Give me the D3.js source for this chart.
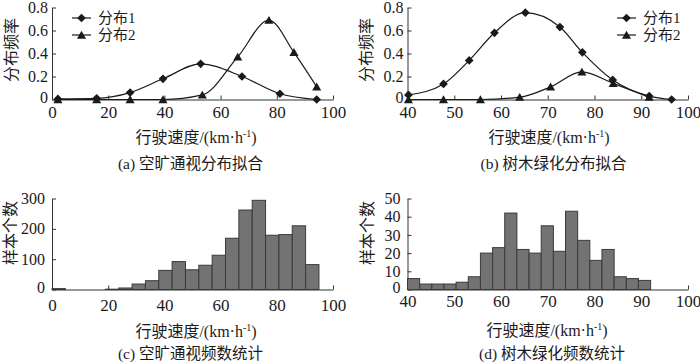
<!DOCTYPE html>
<html>
<head>
<meta charset="utf-8">
<script src="https://cdn.jsdelivr.net/npm/d3@7"></script>
<style>
    body { margin: 0; background: #fff; }
    svg text { font-family: "Liberation Serif", "Noto Sans CJK SC", serif; fill: #1a1a1a; }
</style>
</head>
<body>
<svg id="chart" width="700" height="362"></svg>
<script>
// (a) 空旷通视 分布拟合
const speedA1 = [2.1, 15.9, 27.8, 39.5, 52.9, 67.6, 81.1, 94.2];
const freqA1 = [0.005, 0.01, 0.06, 0.18, 0.31, 0.20, 0.05, 0];
const speedA2 = [2.1, 15.9, 27.8, 39.5, 53.5, 66.1, 77.2, 86.1, 94.2];
const freqA2 = [0, 0, 0, 0, 0.04, 0.37, 0.69, 0.41, 0.11];

// (b) 树木绿化 分布拟合
const speedB1 = [40.2, 47.7, 53.2, 58.6, 65.2, 72.6, 77.4, 83.9, 91.7, 96.5];
const freqB1 = [0.04, 0.135, 0.34, 0.58, 0.755, 0.63, 0.41, 0.17, 0.03, 0];
const speedB2 = [40.2, 47.7, 55.6, 64.0, 70.6, 77.3, 84.0, 91.7];
const freqB2 = [0, 0, 0, 0.02, 0.11, 0.24, 0.14, 0.02];

// (c) 空旷通视 频数统计
const edgesC = [0, 4.75, 9.5, 14.25, 19, 23.75, 28.5, 33.25, 38, 42.75, 47.5,
    52.25, 57, 61.75, 66.5, 71.25, 76, 80.75, 85.5, 90.25, 95];
const countsC = [3, 0, 0, 0, 1, 5, 18, 29, 63, 92, 65, 80, 113, 169, 262, 294, 179, 181, 210, 82];

// (d) 树木绿化 频数统计
const edgesD = [40, 42.6, 45.2, 47.8, 50.4, 53, 55.6, 58.2, 60.8, 63.4, 66,
    68.6, 71.2, 73.8, 76.4, 79, 81.6, 84.2, 86.8, 89.4, 92];
const countsD = [6, 3, 3, 3, 4, 7, 20, 23, 42, 22, 20, 35, 21, 43, 27, 16, 22, 7, 6, 5];

// 刻度
const ticksX1 = [0, 20, 40, 60, 80, 100];
const ticksX2 = [40, 50, 60, 70, 80, 90, 100];
const ticksFreq = [0, 0.2, 0.4, 0.6, 0.8];
const ticksCountC = [0, 100, 200, 300];
const ticksCountD = [0, 10, 20, 30, 40, 50];

const seriesNames = ['分布1', '分布2'];
const xTitle = '行驶速度/(km·h';
const captions = ['(a) 空旷通视分布拟合', '(b) 树木绿化分布拟合', '(c) 空旷通视频数统计', '(d) 树木绿化频数统计'];
const yTitles = ['分布频率', '分布频率', '样本个数', '样本个数'];

const svg = d3.select('#chart');
const ink = '#1a1a1a';

const fmtFreq = d => d === 0 ? '0' : d3.format('.1f')(d);

// 坐标轴 + 标题
function drawFrame(p) {
    const g = svg.append('g');

    const xAxis = g.append('g')
        .attr('transform', `translate(0,${p.y.range()[0]})`)
        .call(d3.axisBottom(p.x).tickValues(p.xTicks)
            .tickSizeInner(-4).tickSizeOuter(0).tickPadding(p.xPad));

    const yAxis = g.append('g')
        .attr('transform', `translate(${p.x.range()[0]},0)`)
        .call(d3.axisLeft(p.y).tickValues(p.yTicks)
            .tickSizeInner(-4).tickSizeOuter(0).tickPadding(p.yPad)
            .tickFormat(p.yFormat || (d => d)));

    [xAxis, yAxis].forEach(a => {
        a.selectAll('path, line').attr('stroke', '#333').attr('stroke-width', 1);
        a.selectAll('text').attr('fill', ink).style('font-family', '"Liberation Serif", serif');
    });
    xAxis.selectAll('text').style('font-size', '17px');
    yAxis.selectAll('text').style('font-size', '16px');
    // 原点 "0" 稍上移，避免与横轴刻度重叠
    yAxis.selectAll('.tick text').filter(d => d === 0).attr('dy', '0.2em');

    // y 轴标题
    g.append('text')
        .attr('transform', `translate(${p.yTitleX},${p.yTitleY}) rotate(-90)`)
        .attr('text-anchor', 'middle')
        .attr('dominant-baseline', 'central')
        .style('font-size', '16px')
        .text(p.yTitle);

    // x 轴标题
    const t = g.append('text')
        .attr('x', p.xTitleX)
        .attr('y', p.xTitleY)
        .attr('text-anchor', 'middle')
        .style('font-size', '16px');
    t.append('tspan').text(xTitle);
    t.append('tspan').attr('dy', '-6').style('font-size', '10px').text('-1');
    t.append('tspan').attr('dy', '6').text(')');

    // 图注
    g.append('text')
        .attr('x', p.capX)
        .attr('y', p.capY)
        .attr('text-anchor', 'middle')
        .style('font-size', '15.5px')
        .text(p.caption);
}

const diamond = d3.symbol(d3.symbolSquare, 38);
const triangle = d3.symbol(d3.symbolTriangle, 36);

function drawMarker(g, kind, cx, cy) {
    if (kind === 0) {
        g.append('path').attr('d', diamond())
            .attr('transform', `translate(${cx},${cy}) rotate(45)`)
            .attr('fill', ink);
    } else {
        g.append('path').attr('d', triangle())
            .attr('transform', `translate(${cx},${cy + 1})`)
            .attr('fill', ink);
    }
}

function drawFitPanel(p, series) {
    drawFrame(p);
    const g = svg.append('g');
    const line = d3.line()
        .x(d => p.x(d[0]))
        .y(d => p.y(d[1]))
        .curve(d3.curveMonotoneX);

    series.forEach(s => {
        g.append('path')
            .attr('d', line(d3.zip(s.speed, s.freq)))
            .attr('fill', 'none')
            .attr('stroke', ink)
            .attr('stroke-width', 1.2);
    });
    series.forEach((s, i) => {
        d3.zip(s.speed, s.freq).forEach(d => drawMarker(g, i, p.x(d[0]), p.y(d[1])));
    });

    // 图例
    seriesNames.forEach((name, i) => {
        const ly = p.legY + i * 17;
        g.append('line')
            .attr('x1', p.legX).attr('x2', p.legX + 19)
            .attr('y1', ly).attr('y2', ly)
            .attr('stroke', ink).attr('stroke-width', 1.2);
        drawMarker(g, i, p.legX + 9.5, ly);
        g.append('text')
            .attr('x', p.legX + 26)
            .attr('y', ly + 5)
            .style('font-size', '15px')
            .text(name);
    });
}

function drawHistPanel(p, edges, counts) {
    drawFrame(p);
    const g = svg.append('g');
    g.selectAll('rect')
        .data(counts)
        .enter()
        .append('rect')
        .attr('x', (d, i) => p.x(edges[i]))
        .attr('width', (d, i) => p.x(edges[i + 1]) - p.x(edges[i]))
        .attr('y', d => p.y(d))
        .attr('height', d => p.y(0) - p.y(d))
        .attr('fill', '#737373')
        .attr('stroke', '#3a3a3a')
        .attr('stroke-width', 1);
}

// (a)
drawFitPanel({
    x: d3.scaleLinear().domain([0, 100]).range([52, 333]),
    y: d3.scaleLinear().domain([0, 0.8]).range([99.5, 7.5]),
    xTicks: ticksX1, yTicks: ticksFreq, yFormat: fmtFreq,
    xPad: 6, yPad: 4,
    yTitle: yTitles[0], yTitleX: 11, yTitleY: 50,
    xTitleX: 196, xTitleY: 143, capX: 190.5, capY: 168.5, caption: captions[0],
    legX: 72, legY: 18
}, [{ speed: speedA1, freq: freqA1 }, { speed: speedA2, freq: freqA2 }]);

// (b)
drawFitPanel({
    x: d3.scaleLinear().domain([40, 100]).range([407.5, 688]),
    y: d3.scaleLinear().domain([0, 0.8]).range([99.5, 7.5]),
    xTicks: ticksX2, yTicks: ticksFreq, yFormat: fmtFreq,
    xPad: 6, yPad: 4,
    yTitle: yTitles[1], yTitleX: 366, yTitleY: 50,
    xTitleX: 549, xTitleY: 143, capX: 553.5, capY: 168.5, caption: captions[1],
    legX: 617, legY: 18
}, [{ speed: speedB1, freq: freqB1 }, { speed: speedB2, freq: freqB2 }]);

// (c)
drawHistPanel({
    x: d3.scaleLinear().domain([0, 100]).range([52, 333]),
    y: d3.scaleLinear().domain([0, 300]).range([289.5, 198.5]),
    xTicks: ticksX1, yTicks: ticksCountC,
    xPad: 9, yPad: 7,
    yTitle: yTitles[2], yTitleX: 10, yTitleY: 233,
    xTitleX: 196, xTitleY: 337, capX: 190.5, capY: 358.5, caption: captions[2]
}, edgesC, countsC);

// (d)
drawHistPanel({
    x: d3.scaleLinear().domain([40, 100]).range([407.5, 688]),
    y: d3.scaleLinear().domain([0, 50]).range([289.5, 198.5]),
    xTicks: ticksX2, yTicks: ticksCountD,
    xPad: 5, yPad: 7,
    yTitle: yTitles[3], yTitleX: 367, yTitleY: 233,
    xTitleX: 547, xTitleY: 336, capX: 552, capY: 358.5, caption: captions[3]
}, edgesD, countsD);
</script>
</body>
</html>
